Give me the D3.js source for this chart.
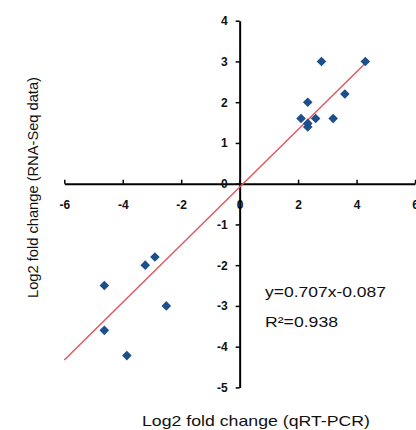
<!DOCTYPE html>
<html>
<head>
<meta charset="utf-8">
<script src="https://cdn.jsdelivr.net/npm/d3@7"></script>
<style>
  html, body { margin: 0; padding: 0; background: #fff; }
  svg { display: block; }
  text { font-family: "Liberation Sans", Arial, sans-serif; }
  .tick text { font-weight: 700; }
</style>
</head>
<body>
<svg id="chart" width="416" height="430"></svg>
<script>
// Data
const qpcr   = [2.8, 4.3, 2.33, 3.6, 2.1, 2.6, 3.2, 2.33, 2.33, -2.9, -3.23, -4.63, -2.51, -4.63, -3.86];
const rnaseq = [3.0, 3.0, 2.0, 2.2, 1.6, 1.6, 1.6, 1.48, 1.39, -1.8, -2.0, -2.5, -3.0, -3.6, -4.22];
const xTicks = [-6, -4, -2, 0, 2, 4, 6];
const yTicks = [4, 3, 2, 1, 0, -1, -2, -3, -4, -5];
const fit = { slope: 0.707, intercept: -0.087, xFrom: -6, xTo: 4.3 };
const equationLines = ["y=0.707x-0.087", "R\u00B2=0.938"];
const xTitle = "Log2 fold change (qRT-PCR)";
const yTitle = "Log2 fold change (RNA-Seq data)";

const svg = d3.select("#chart");
const x = d3.scaleLinear().domain([-6, 6]).range([64.3, 415]);
const y = d3.scaleLinear().domain([-5, 4]).range([387.4, 20.7]);

// x axis (through y=0), ticks pointing up, labels below
const xAxis = d3.axisBottom(x).tickValues(xTicks).tickFormat(d => String(d))
  .tickSizeInner(-4).tickSizeOuter(0).tickPadding(17);
const gx = svg.append("g").attr("transform", `translate(0,${y(0)})`).call(xAxis);
gx.select(".domain").attr("stroke", "#000").attr("stroke-width", 2);
gx.selectAll(".tick line").attr("stroke", "#000").attr("stroke-width", 1.5);
gx.selectAll(".tick text").attr("font-size", 12).attr("font-weight", "bold")
  .attr("fill", "#111").style("font-family", "Liberation Sans, Arial, sans-serif");

// y axis (through x=0)
const yAxis = d3.axisLeft(y).tickValues(yTicks).tickFormat(d => String(d))
  .tickSizeInner(4).tickSizeOuter(0).tickPadding(8);
const gy = svg.append("g").attr("transform", `translate(${x(0)},0)`).call(yAxis);
gy.select(".domain").attr("stroke", "#000").attr("stroke-width", 2);
gy.selectAll(".tick line").attr("stroke", "#000").attr("stroke-width", 1.5);
gy.selectAll(".tick text").attr("font-size", 12).attr("font-weight", "bold")
  .attr("fill", "#111").style("font-family", "Liberation Sans, Arial, sans-serif");

// regression line
svg.append("line")
  .attr("x1", x(fit.xFrom)).attr("y1", y(fit.slope * fit.xFrom + fit.intercept))
  .attr("x2", x(fit.xTo)).attr("y2", y(fit.slope * fit.xTo + fit.intercept))
  .attr("stroke", "#e0555a").attr("stroke-width", 1.4);

// points (diamonds)
const diamond = d3.symbol().type(d3.symbolSquare).size(46);
svg.append("g").selectAll("path").data(qpcr.map((v, i) => [v, rnaseq[i]])).join("path")
  .attr("d", diamond)
  .attr("transform", d => `translate(${x(d[0])},${y(d[1])}) rotate(45)`)
  .attr("fill", "#1d4f8c");

// equation
svg.append("text").attr("x", 265).attr("y", 296.5).attr("font-size", 15)
  .attr("textLength", 121).attr("lengthAdjust", "spacingAndGlyphs")
  .attr("fill", "#111").text(equationLines[0]);
svg.append("text").attr("x", 265).attr("y", 326.5).attr("font-size", 15)
  .attr("textLength", 73).attr("lengthAdjust", "spacingAndGlyphs")
  .attr("fill", "#111").text(equationLines[1]);

// axis titles
svg.append("text").attr("x", 256).attr("y", 425.5).attr("text-anchor", "middle")
  .attr("font-size", 15).attr("textLength", 228).attr("lengthAdjust", "spacingAndGlyphs")
  .attr("fill", "#111").text(xTitle);
svg.append("text").attr("transform", "translate(37.5,187.5) rotate(-90)").attr("text-anchor", "middle")
  .attr("font-size", 14.5).attr("textLength", 221).attr("lengthAdjust", "spacingAndGlyphs")
  .attr("fill", "#111").text(yTitle);
</script>
</body>
</html>
